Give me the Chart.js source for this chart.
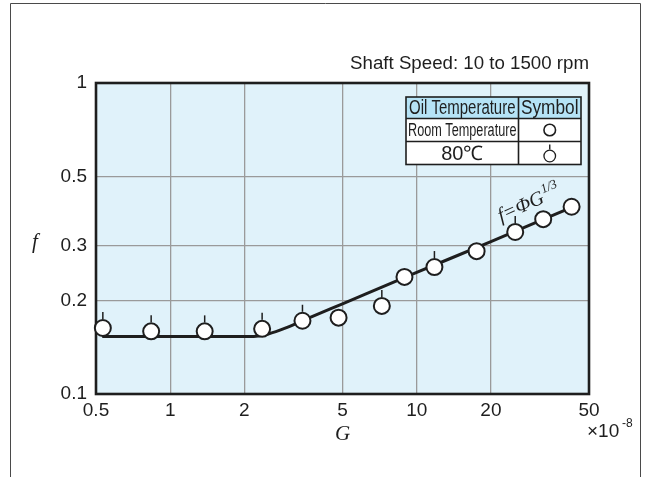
<!DOCTYPE html>
<html><head><meta charset="utf-8">
<script src="https://cdn.jsdelivr.net/npm/chart.js@4.4.1/dist/chart.umd.min.js"></script>
<style>html,body{margin:0;padding:0;background:#fff}canvas{display:block}</style>
</head><body>
<canvas id="c" width="652" height="477"></canvas>
<script>
// ---- data ----
const xTicks = [0.5, 1, 2, 5, 10, 20, 50];
const xTickLabels = ['0.5', '1', '2', '5', '10', '20', '50'];
const yTicks = [0.1, 0.2, 0.3, 0.5, 1];
const yTickLabels = ['0.1', '0.2', '0.3', '0.5', '1'];
const roomG = [4.82, 8.92, 17.5, 32.6, 42.5];
const roomF = [0.176, 0.238, 0.288, 0.365, 0.400];
const hotG = [0.533, 0.837, 1.38, 2.36, 3.44, 7.22, 11.8, 25.1];
const hotF = [0.163, 0.159, 0.159, 0.162, 0.172, 0.192, 0.256, 0.332];
const lineG = [0.53, 2.1, 2.5, 3.0, 3.5, 5, 10, 20, 43];
const lineF = [0.153, 0.153, 0.156, 0.164, 0.173, 0.195, 0.246, 0.309, 0.400];
const titleText = 'Shaft Speed: 10 to 1500 rpm';
const legendHead = ['Oil Temperature', 'Symbol'];
const legendRows = ['Room Temperature', '80\u2103'];

const pts = (xs, ys) => xs.map((x, i) => ({x: x, y: ys[i]}));
const SANS = "'Liberation Sans', Arial, sans-serif";
const NARROW = "'Liberation Sans Narrow', 'Liberation Sans', Arial, sans-serif";
const SERIF = "'Liberation Serif', 'Times New Roman', serif";
const INK = '#1e1e1e';

function circleMark(ctx, x, y, r, tick, lw) {
  ctx.beginPath(); ctx.arc(x, y, r, 0, Math.PI * 2);
  ctx.fillStyle = '#fff'; ctx.fill();
  ctx.lineWidth = lw; ctx.strokeStyle = INK; ctx.stroke();
  if (tick) {
    ctx.beginPath(); ctx.moveTo(x, y - r - lw / 2); ctx.lineTo(x, y - r - lw / 2 - tick);
    ctx.lineWidth = 1.4; ctx.stroke();
  }
}

function drawTable(ctx) {
  const L = 406, M = 518.5, R = 581, T = 97, r1 = 118.5, r2 = 141.5, B = 164.5;
  ctx.save();
  ctx.fillStyle = '#ffffff'; ctx.fillRect(L, T, R - L, B - T);
  ctx.fillStyle = '#b5e3f6'; ctx.fillRect(L, T, R - L, r1 - T);
  ctx.strokeStyle = INK; ctx.lineWidth = 1.6;
  ctx.strokeRect(L, T, R - L, B - T);
  ctx.beginPath();
  ctx.moveTo(L, r1); ctx.lineTo(R, r1);
  ctx.moveTo(L, r2); ctx.lineTo(R, r2);
  ctx.moveTo(M, T); ctx.lineTo(M, B);
  ctx.stroke();
  ctx.fillStyle = INK; ctx.textAlign = 'center'; ctx.textBaseline = 'middle';
  ctx.font = '20px ' + NARROW;
  ctx.fillText(legendHead[0], (L + M) / 2, (T + r1) / 2 + 1, M - L - 6);
  ctx.fillText(legendHead[1], (M + R) / 2, (T + r1) / 2 + 1, R - M - 5);
  ctx.font = '18px ' + NARROW;
  ctx.fillText(legendRows[0], (L + M) / 2, (r1 + r2) / 2 + 1, M - L - 4);
  ctx.font = '20px ' + SANS;
  ctx.fillText(legendRows[1], (L + M) / 2, (r2 + B) / 2 + 1);
  circleMark(ctx, (M + R) / 2, (r1 + r2) / 2, 5.8, 0, 1.6);
  circleMark(ctx, (M + R) / 2, (r2 + B) / 2 + 3, 5.8, 5, 1.3);
  ctx.restore();
}

const deco = {
  id: 'deco',
  beforeDraw(chart) {
    const {ctx, chartArea: a} = chart;
    ctx.save();
    ctx.fillStyle = '#fff'; ctx.fillRect(0, 0, chart.width, chart.height);
    ctx.strokeStyle = '#4a4a4a'; ctx.lineWidth = 1;
    ctx.beginPath(); ctx.moveTo(10.5, 477); ctx.lineTo(10.5, 3.5); ctx.lineTo(640.5, 3.5); ctx.lineTo(640.5, 477); ctx.stroke();
    ctx.fillStyle = '#e0f2fa';
    ctx.fillRect(a.left, a.top, a.right - a.left, a.bottom - a.top);
    ctx.restore();
  },
  beforeDatasetsDraw(chart) {
    const {ctx, chartArea: a} = chart;
    drawTable(ctx);
    ctx.save(); ctx.strokeStyle = INK; ctx.lineWidth = 2.6;
    ctx.strokeRect(a.left, a.top, a.right - a.left, a.bottom - a.top);
    ctx.restore();
  },
  afterDatasetsDraw(chart) {
    const ctx = chart.ctx;
    const meta = chart.getDatasetMeta(1);
    ctx.save(); ctx.strokeStyle = INK; ctx.lineWidth = 1.5;
    meta.data.forEach(el => {
      ctx.beginPath(); ctx.moveTo(el.x, el.y - 9); ctx.lineTo(el.x, el.y - 16); ctx.stroke();
    });
    ctx.restore();
  },
  afterDraw(chart) {
    const {ctx, chartArea: a} = chart;
    ctx.save();
    ctx.fillStyle = INK;
    ctx.font = '18.7px ' + SANS; ctx.textAlign = 'right'; ctx.textBaseline = 'middle';
    ctx.fillText(titleText, 589, 64);
    // axis titles
    ctx.font = 'italic 21px ' + SERIF; ctx.textAlign = 'center';
    ctx.fillText('f', 35, 242);
    ctx.fillText('G', (a.left + a.right) / 2, 434);
    // multiplier
    ctx.font = '19px ' + SANS; ctx.textAlign = 'left';
    ctx.fillText('\u00d710', 587, 432);
    ctx.font = '12px ' + SANS;
    ctx.fillText('-8', 622, 424);
    // formula label
    ctx.translate(501, 222); ctx.rotate(-24 * Math.PI / 180);
    ctx.textBaseline = 'alphabetic';
    ctx.font = 'italic 20px ' + SERIF;
    const s1 = 'f=\u03a6G';
    ctx.fillText(s1, 0, 0);
    const w = ctx.measureText(s1).width;
    ctx.font = 'italic 13px ' + SERIF;
    ctx.fillText('1/3', w + 1, -9);
    ctx.restore();
  }
};

new Chart(document.getElementById('c'), {
  type: 'scatter',
  data: {
    datasets: [
      {label: 'Room Temperature', data: pts(roomG, roomF), pointRadius: 8, pointHoverRadius: 8,
       pointBorderWidth: 2, pointBackgroundColor: '#fff', pointBorderColor: INK, showLine: false, clip: false},
      {label: '80\u2103', data: pts(hotG, hotF), pointRadius: 8, pointHoverRadius: 8,
       pointBorderWidth: 2, pointBackgroundColor: '#fff', pointBorderColor: INK, showLine: false, clip: false},
      {label: 'f=\u03a6G^(1/3)', data: pts(lineG, lineF), showLine: true, pointRadius: 0, borderColor: INK,
       borderWidth: 3, cubicInterpolationMode: 'monotone', fill: false}
    ]
  },
  options: {
    responsive: false,
    animation: false,
    events: [],
    layout: {padding: {top: 83, right: 63, bottom: 43, left: 0}},
    plugins: {legend: {display: false}, tooltip: {enabled: false}, title: {display: false}},
    scales: {
      x: {
        type: 'logarithmic', min: 0.5, max: 50, position: 'bottom',
        afterBuildTicks: s => { s.ticks = xTicks.map(v => ({value: v})); },
        afterFit: s => { s.height = 40; },
        ticks: {autoSkip: false, maxRotation: 0, padding: 5, color: INK,
                font: {family: SANS, size: 19},
                callback: (v, i) => xTickLabels[xTicks.indexOf(v)] ?? ''},
        grid: {color: '#9a9a9a', lineWidth: 1.3, drawTicks: false},
        border: {display: false}
      },
      y: {
        type: 'logarithmic', min: 0.1, max: 1, position: 'left',
        afterBuildTicks: s => { s.ticks = yTicks.map(v => ({value: v})); },
        afterFit: s => { s.width = 96; },
        ticks: {autoSkip: false, padding: 9, color: INK,
                font: {family: SANS, size: 19},
                callback: (v, i) => yTickLabels[yTicks.indexOf(v)] ?? ''},
        grid: {color: '#9a9a9a', lineWidth: 1.3, drawTicks: false},
        border: {display: false}
      }
    }
  },
  plugins: [deco]
});
</script>
</body></html>
